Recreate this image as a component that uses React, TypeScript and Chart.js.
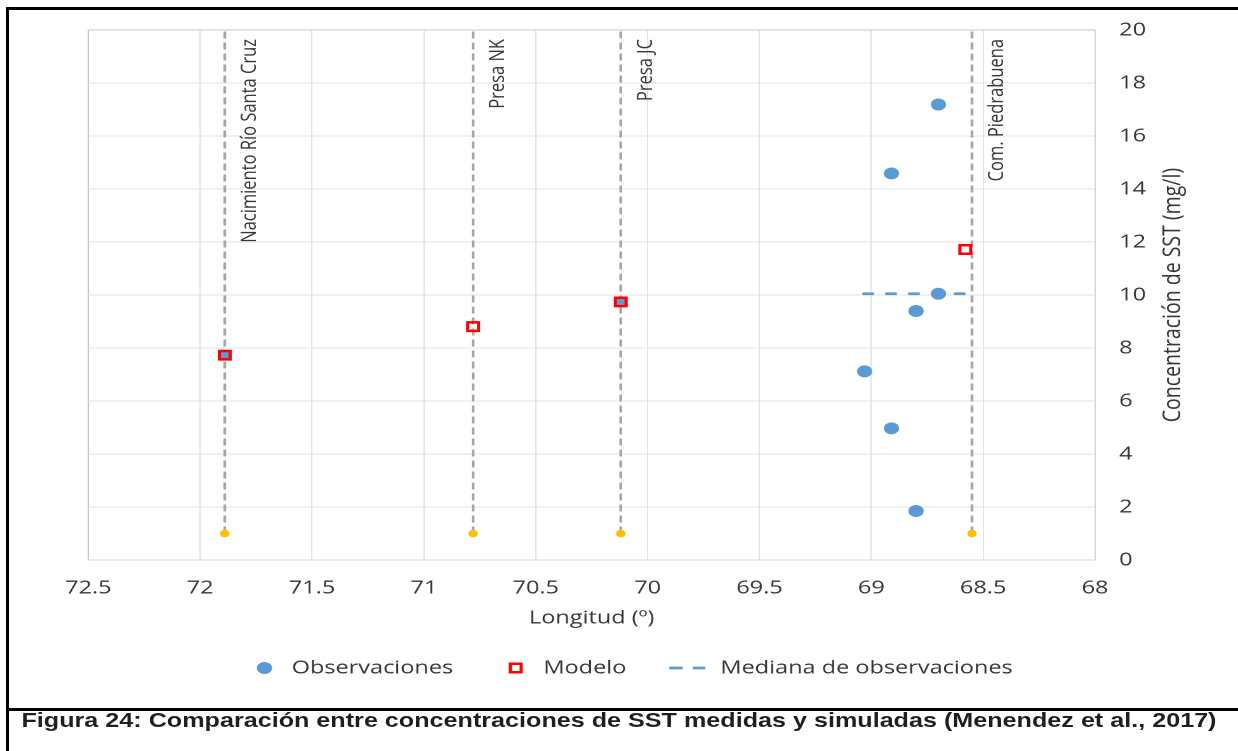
import React, { useEffect, useMemo, useRef } from 'react';
import { Chart, registerables } from 'chart.js';

Chart.register(...registerables);

// ---------- data ----------
const xMin = 68;
const xMax = 72.5;
const xStep = 0.5;
const yMin = 0;
const yMax = 20;
const yStep = 2;

const siteNames = ['Nacimiento Río Santa Cruz', 'Presa NK', 'Presa JC', 'Com. Piedrabuena'];
const siteLon = [71.89, 70.78, 70.12, 68.55];
const siteMarkerSST = [1, 1, 1, 1];
const siteLineTopSST = 20;

const obsLon = [68.7, 68.91, 68.7, 68.8, 69.03, 68.91, 68.8];
const obsSST = [17.19, 14.59, 10.05, 9.4, 7.12, 4.97, 1.85];

const obsSiteLon = [71.89, 70.12];
const obsSiteSST = [7.73, 9.74];

const modelLon = [71.89, 70.78, 70.12, 68.58];
const modelSST = [7.73, 8.81, 9.74, 11.72];

const medianLon = [69.04, 68.57];
const medianSST = [10.05, 10.05];

const legendLabels = ['Observaciones', 'Modelo', 'Mediana de observaciones'];
const xTitle = 'Longitud (º)';
const yTitle = 'Concentración de SST (mg/l)';
const caption =
  'Figura 24: Comparación entre concentraciones de SST medidas y simuladas (Menendez et al., 2017)';

// ---------- style ----------
const BLUE = '#5b9bd5';
const RED = '#ff0000';
const YELLOW = '#ffc000';
const SITE_GRAY = '#a6a6a6';
const TEXT = '#363636';
const FONT = "'Open Sans', sans-serif";
const CANVAS_W = 975;
const CANVAS_H = 706;
const STRETCH = 1238 / CANVAS_W;

const pts = (xs: number[], ys: number[]) => xs.map((x, i) => ({ x, y: ys[i] }));

const overlayPlugin = {
  id: 'overlay',
  afterDatasetsDraw(chart: any) {
    const { ctx, scales } = chart;
    ctx.save();
    ctx.fillStyle = TEXT;
    ctx.font = `16.5px ${FONT}`;
    ctx.textAlign = 'right';
    ctx.textBaseline = 'alphabetic';
    siteNames.forEach((name, i) => {
      const px = scales.x.getPixelForValue(siteLon[i]);
      ctx.save();
      ctx.translate(px + 24.4, 39);
      ctx.rotate(-Math.PI / 2);
      ctx.fillText(name, 0, 0);
      ctx.restore();
    });
    ctx.restore();
  },
  afterDraw(chart: any) {
    const { ctx, chartArea } = chart;
    ctx.save();
    // y title (reads bottom to top)
    ctx.fillStyle = TEXT;
    ctx.font = `19.5px ${FONT}`;
    ctx.textAlign = 'center';
    ctx.textBaseline = 'alphabetic';
    ctx.save();
    ctx.translate(929.3, (chartArea.top + chartArea.bottom) / 2);
    ctx.rotate(-Math.PI / 2);
    ctx.fillText(yTitle, 0, 0);
    ctx.restore();

    // legend
    const ly = 668;
    ctx.fillStyle = BLUE;
    ctx.beginPath();
    ctx.arc(208.3, ly, 6, 0, Math.PI * 2);
    ctx.fill();

    ctx.strokeStyle = RED;
    ctx.lineWidth = 2.5;
    ctx.strokeRect(406.2 - 4.25, ly - 4.25, 8.5, 8.5);

    ctx.strokeStyle = BLUE;
    ctx.lineWidth = 2.75;
    ctx.setLineDash([10.5, 8]);
    ctx.beginPath();
    ctx.moveTo(527.1, ly);
    ctx.lineTo(555.5, ly);
    ctx.stroke();
    ctx.setLineDash([]);

    ctx.fillStyle = TEXT;
    ctx.font = `18.5px ${FONT}`;
    ctx.textAlign = 'left';
    ctx.textBaseline = 'middle';
    ctx.fillText(legendLabels[0], 229.7, ly);
    ctx.fillText(legendLabels[1], 428, ly);
    ctx.fillText(legendLabels[2], 567.4, ly);
    ctx.restore();
  },
};

function measureText(text: string, font: string) {
  const c = document.createElement('canvas').getContext('2d');
  if (!c) return 900;
  c.font = font;
  return c.measureText(text).width;
}

const fmtTick = (v: any) => String(Math.round(Number(v) * 10) / 10);

export default function App() {
  const canvasRef = useRef<HTMLCanvasElement | null>(null);
  const capFont = 'bold 21px "Liberation Sans", Arial, sans-serif';
  const capScale = useMemo(() => 1195 / measureText(caption, capFont), []);

  useEffect(() => {
    if (!canvasRef.current) return;
    const gridColor = (c: any) => {
      const v = c.tick ? c.tick.value : null;
      return v === yMax || v === xMax ? '#c4c4c4' : '#e2e2e2';
    };
    const tickFont = { family: FONT, size: 18.5 };
    const siteLineSets = siteLon.map((lon, i) => ({
      label: siteNames[i],
      data: [
        { x: lon, y: siteMarkerSST[i] },
        { x: lon, y: siteLineTopSST },
      ],
      showLine: true,
      borderColor: SITE_GRAY,
      borderWidth: 2.2,
      borderDash: [7, 4],
      pointRadius: 0,
      fill: false,
    }));
    const chart = new Chart(canvasRef.current, {
      type: 'scatter',
      data: {
        datasets: [
          {
            label: legendLabels[1],
            data: pts(modelLon, modelSST),
            pointStyle: 'rect',
            pointRadius: 6,
            pointBackgroundColor: 'rgba(0,0,0,0)',
            pointBorderColor: RED,
            pointBorderWidth: 2.5,
          },
          {
            label: 'obs-sitios',
            data: pts(obsSiteLon, obsSiteSST),
            pointStyle: 'rect',
            pointRadius: 6,
            pointBackgroundColor: BLUE,
            pointBorderWidth: 0,
          },
          {
            label: legendLabels[0],
            data: pts(obsLon, obsSST),
            pointStyle: 'circle',
            pointRadius: 6,
            pointBackgroundColor: BLUE,
            pointBorderWidth: 0,
          },
          {
            label: legendLabels[2],
            data: pts(medianLon, medianSST),
            showLine: true,
            borderColor: BLUE,
            borderWidth: 2.75,
            borderDash: [9.2, 8.8],
            pointRadius: 0,
          },
          {
            label: 'sitios',
            data: pts(siteLon, siteMarkerSST),
            pointStyle: 'circle',
            pointRadius: 3.8,
            pointBackgroundColor: YELLOW,
            pointBorderWidth: 0,
          },
          ...siteLineSets,
        ] as any,
      },
      options: {
        animation: false,
        responsive: false,
        devicePixelRatio: 2,
        events: [],
        layout: { padding: { left: 69.54, top: 28.3, right: 0, bottom: 66 } },
        plugins: { legend: { display: false }, tooltip: { enabled: false } },
        scales: {
          x: {
            type: 'linear',
            reverse: true,
            min: xMin,
            max: xMax,
            ticks: {
              stepSize: xStep,
              padding: 17,
              color: TEXT,
              font: tickFont,
              autoSkip: false,
              maxRotation: 0,
              callback: fmtTick,
            },
            grid: { color: gridColor, drawTicks: false, lineWidth: 1 },
            border: { color: '#d6d6d6' },
            title: {
              display: true,
              text: xTitle,
              color: TEXT,
              font: { family: FONT, size: 18.5 },
              padding: { top: 0, bottom: 10.5 },
            },
            afterFit: (s: any) => {
              s.height = 80;
            },
          },
          y: {
            type: 'linear',
            position: 'right',
            min: yMin,
            max: yMax,
            ticks: { stepSize: yStep, padding: 19, color: TEXT, font: tickFont, callback: fmtTick },
            grid: { color: gridColor, drawTicks: false, lineWidth: 1 },
            border: { color: '#d6d6d6' },
            afterFit: (s: any) => {
              s.width = CANVAS_W - 862.4;
            },
          },
        },
      } as any,
      plugins: [overlayPlugin],
    });
    return () => chart.destroy();
  }, []);

  return (
    <div
      style={{
        position: 'absolute',
        left: 0,
        top: 0,
        width: 1238,
        height: 751,
        background: '#ffffff',
        overflow: 'hidden',
      }}
    >
      <div
        style={{
          position: 'absolute',
          left: 0,
          top: 0,
          width: CANVAS_W,
          height: CANVAS_H,
          transform: `scaleX(${STRETCH})`,
          transformOrigin: '0 0',
        }}
      >
        <canvas ref={canvasRef} width={CANVAS_W} height={CANVAS_H} />
      </div>
      <div style={{ position: 'absolute', left: 6, top: 7, width: 1232, height: 3, background: '#000' }} />
      <div style={{ position: 'absolute', left: 6, top: 7, width: 3, height: 744, background: '#000' }} />
      <div style={{ position: 'absolute', left: 6, top: 708, width: 1232, height: 3, background: '#000' }} />
      <span
        style={{
          position: 'absolute',
          left: 619,
          top: 708,
          whiteSpace: 'nowrap',
          font: capFont,
          lineHeight: '24px',
          color: '#1f1f1f',
          transform: `translateX(-50%) scaleX(${capScale})`,
          transformOrigin: 'center',
        }}
      >
        {caption}
      </span>
    </div>
  );
}
